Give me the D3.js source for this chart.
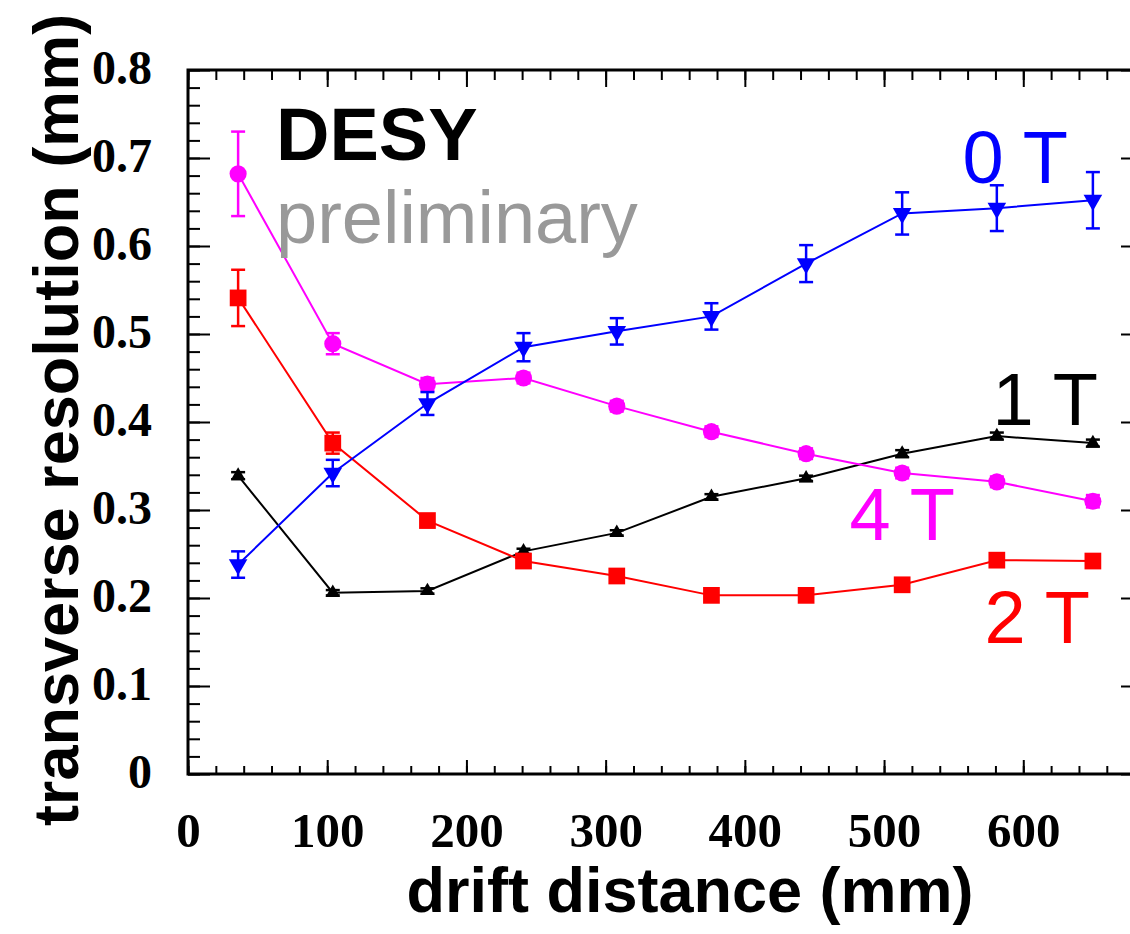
<!DOCTYPE html>
<html>
<head>
<meta charset="utf-8">
<script src="https://cdn.jsdelivr.net/npm/d3@7"></script>
<style>
  html, body { margin: 0; padding: 0; background: #fff; overflow: hidden; }
</style>
</head>
<body>
<div id="container"></div>
<script>
const width = 1130;
const height = 934;
const margin = { top: 70, bottom: 160, left: 188, right: -13 };

// drift distance (mm) of each measurement
const driftDistance = [36, 104, 172, 241, 308, 376, 444, 513, 581, 650];

// transverse resolution (mm) per magnetic field
const res0T = [0.238, 0.342, 0.421, 0.485, 0.503, 0.520, 0.580, 0.637, 0.643, 0.652];
const err0T = [0.015, 0.015, 0.013, 0.016, 0.015, 0.015, 0.021, 0.024, 0.026, 0.032];
const res1T = [0.339, 0.206, 0.208, 0.253, 0.274, 0.315, 0.336, 0.364, 0.384, 0.376];
const err1T = [0.004, 0.003, 0.003, 0.003, 0.003, 0.003, 0.003, 0.004, 0.004, 0.004];
const res2T = [0.541, 0.376, 0.288, 0.242, 0.225, 0.203, 0.203, 0.215, 0.243, 0.242];
const err2T = [0.032, 0.012, 0.006, 0.005, 0.005, 0.005, 0.005, 0.005, 0.006, 0.006];
const res4T = [0.682, 0.489, 0.443, 0.450, 0.418, 0.389, 0.364, 0.342, 0.332, 0.310];
const err4T = [0.048, 0.012, 0.007, 0.006, 0.006, 0.006, 0.006, 0.006, 0.006, 0.007];

const xMajorTicks = [0, 100, 200, 300, 400, 500, 600];
const yMajorTicks = [0, 0.1, 0.2, 0.3, 0.4, 0.5, 0.6, 0.7, 0.8];

const series = [
    { name: "1 T", values: res1T, errors: err1T, color: "#000000", symbol: d3.symbolTriangle, size: 90, rotate: 0 },
    { name: "2 T", values: res2T, errors: err2T, color: "#ff0000", symbol: d3.symbolSquare, size: 280, rotate: 0 },
    { name: "4 T", values: res4T, errors: err4T, color: "#ff00ff", symbol: d3.symbolCircle, size: 230, rotate: 0 },
    { name: "0 T", values: res0T, errors: err0T, color: "#0000ff", symbol: d3.symbolTriangle, size: 150, rotate: 180 }
];

const svg = d3.select("#container")
    .append('svg')
    .attr('height', height)
    .attr('width', width)
    .attr('viewBox', [0, 0, width, height]);

const x = d3.scaleLinear()
    .domain([0, 686])
    .range([margin.left, width - margin.right]);

const y = d3.scaleLinear()
    .domain([0, 0.8])
    .range([height - margin.bottom, margin.top]);

const xMinor = d3.range(0, 687, 20);
const yMinor = d3.range(0, 0.801, 0.02);

function drawTicks() {
    const axisFont = "'Liberation Serif', 'Times New Roman', serif";

    // bottom: minor + major with labels
    svg.append('g')
        .attr('transform', `translate(0,${y(0)})`)
        .call(d3.axisBottom(x).tickValues(xMinor).tickSize(-8).tickFormat(''))
        .call(g => g.select('.domain').remove());
    svg.append('g')
        .attr('transform', `translate(0,${y(0)})`)
        .call(d3.axisBottom(x).tickValues(xMajorTicks).tickSize(-14).tickPadding(38).tickFormat(d => d))
        .call(g => g.select('.domain').remove())
        .call(g => g.selectAll('text')
            .attr('font-family', axisFont)
            .attr('font-weight', 'bold')
            .attr('font-size', 49)
            .attr('fill', '#000'));

    // top
    svg.append('g')
        .attr('transform', `translate(0,${y(0.8)})`)
        .call(d3.axisTop(x).tickValues(xMinor).tickSize(-10).tickFormat(''))
        .call(g => g.select('.domain').remove());
    svg.append('g')
        .attr('transform', `translate(0,${y(0.8)})`)
        .call(d3.axisTop(x).tickValues(xMajorTicks).tickSize(-17).tickFormat(''))
        .call(g => g.select('.domain').remove());

    // left
    svg.append('g')
        .attr('transform', `translate(${x(0)},0)`)
        .call(d3.axisLeft(y).tickValues(yMinor).tickSize(-12).tickFormat(''))
        .call(g => g.select('.domain').remove());
    svg.append('g')
        .attr('transform', `translate(${x(0)},0)`)
        .call(d3.axisLeft(y).tickValues(yMajorTicks).tickSize(-22).tickPadding(36).tickFormat(d => d === 0 ? '0' : d3.format('.1f')(d)))
        .call(g => g.select('.domain').remove())
        .call(g => g.selectAll('text')
            .attr('font-family', axisFont)
            .attr('font-weight', 'bold')
            .attr('font-size', 48)
            .attr('dy', '0.28em')
            .attr('fill', '#000'));

    // right
    svg.append('g')
        .attr('transform', `translate(${x(686)},0)`)
        .call(d3.axisRight(y).tickValues(yMinor).tickSize(-12).tickFormat(''))
        .call(g => g.select('.domain').remove());
    svg.append('g')
        .attr('transform', `translate(${x(686)},0)`)
        .call(d3.axisRight(y).tickValues(yMajorTicks).tickSize(-22).tickFormat(''))
        .call(g => g.select('.domain').remove());

    svg.selectAll('.tick line').attr('stroke', '#000').attr('stroke-width', 2);

    // frame
    svg.append('rect')
        .attr('x', x(0))
        .attr('y', y(0.8))
        .attr('width', x(686) - x(0))
        .attr('height', y(0) - y(0.8))
        .attr('fill', 'none')
        .attr('stroke', '#000')
        .attr('stroke-width', 3);
}

function drawSeries() {
    const line = d3.line()
        .x((d, i) => x(driftDistance[i]))
        .y(d => y(d));

    series.forEach(s => {
        const g = svg.append('g').attr('class', 'series');

        g.append('path')
            .datum(s.values)
            .attr('d', line)
            .attr('fill', 'none')
            .attr('stroke', s.color)
            .attr('stroke-width', 2);

        const bars = g.selectAll('g.err')
            .data(s.values)
            .join('g')
            .attr('class', 'err');
        bars.append('line')
            .attr('x1', (d, i) => x(driftDistance[i]))
            .attr('x2', (d, i) => x(driftDistance[i]))
            .attr('y1', (d, i) => y(d - s.errors[i]))
            .attr('y2', (d, i) => y(d + s.errors[i]))
            .attr('stroke', s.color)
            .attr('stroke-width', 2.5);
        [-1, 1].forEach(sign => {
            bars.append('line')
                .attr('x1', (d, i) => x(driftDistance[i]) - 7)
                .attr('x2', (d, i) => x(driftDistance[i]) + 7)
                .attr('y1', (d, i) => y(d + sign * s.errors[i]))
                .attr('y2', (d, i) => y(d + sign * s.errors[i]))
                .attr('stroke', s.color)
                .attr('stroke-width', 2.5);
        });

        g.selectAll('path.marker')
            .data(s.values)
            .join('path')
            .attr('class', 'marker')
            .attr('d', d3.symbol().type(s.symbol).size(s.size))
            .attr('transform', (d, i) => `translate(${x(driftDistance[i])},${y(d)}) rotate(${s.rotate})`)
            .attr('fill', s.color);
    });
}

function drawLabels() {
    const sans = "'Liberation Sans', Arial, Helvetica, sans-serif";

    svg.append('text')
        .attr('x', 690)
        .attr('y', 912)
        .attr('text-anchor', 'middle')
        .attr('font-family', sans)
        .attr('font-weight', 'bold')
        .attr('font-size', 63)
        .text('drift distance (mm)');

    svg.append('text')
        .attr('transform', 'translate(78,420) rotate(-90)')
        .attr('text-anchor', 'middle')
        .attr('font-family', sans)
        .attr('font-weight', 'bold')
        .attr('font-size', 63)
        .text('transverse resolution (mm)');

    svg.append('text')
        .attr('x', 276)
        .attr('y', 160)
        .attr('font-family', sans)
        .attr('font-weight', 'bold')
        .attr('font-size', 74)
        .text('DESY');

    svg.append('text')
        .attr('x', 276)
        .attr('y', 243)
        .attr('font-family', sans)
        .attr('font-size', 74)
        .attr('fill', '#999999')
        .text('preliminary');

    const fieldLabels = [
        { text: '0 T', x: 1068, y: 183, color: '#0000ff' },
        { text: '1 T', x: 1098, y: 425, color: '#000000' },
        { text: '4 T', x: 955, y: 540, color: '#ff00ff' },
        { text: '2 T', x: 1090, y: 643, color: '#ff0000' }
    ];
    fieldLabels.forEach(l => {
        svg.append('text')
            .attr('x', l.x)
            .attr('y', l.y)
            .attr('text-anchor', 'end')
            .attr('font-family', sans)
            .attr('font-size', 74)
            .attr('fill', l.color)
            .text(l.text);
    });
}

drawTicks();
drawSeries();
drawLabels();
</script>
</body>
</html>
